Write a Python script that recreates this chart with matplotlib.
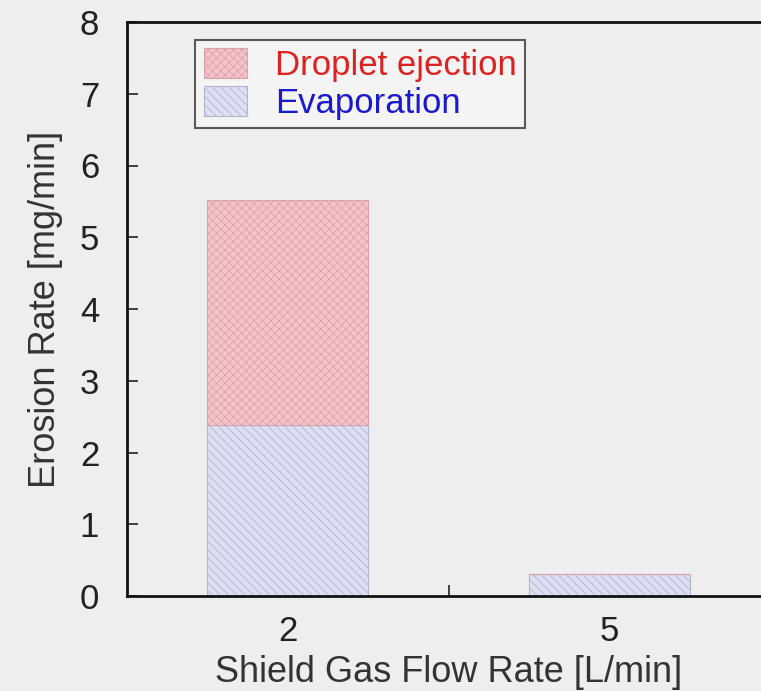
import numpy as np
import matplotlib.pyplot as plt

plt.rcParams['font.family'] = ['Liberation Sans', 'DejaVu Sans']
plt.rcParams['hatch.linewidth'] = 0.6

flow_rates = ['2', '5']
evaporation = [2.38, 0.30]
droplet = [3.14, 0.0]

def Main():
    fig = plt.figure(figsize=(7.61, 6.91), dpi=100, facecolor='#eeeeee')
    # axes runs slightly past the right edge, like the cropped original
    ax = fig.add_axes([127 / 761, 95 / 691, 643 / 761, 574 / 691])
    ax.set_facecolor('#eeeeee')

    x = np.arange(len(flow_rates))
    ax.bar(x, evaporation, width=0.5, color='#dedef4', edgecolor='#b4b4c8',
           hatch='\\\\\\\\', linewidth=0.8, label='Evaporation')
    ax.bar(x, droplet, width=0.5, bottom=evaporation, color='#f6c2c8',
           edgecolor='#d4a6ac', hatch='xxxx', linewidth=0.8,
           label='Droplet ejection')

    ax.set_xlim(-0.5, 1.5)
    ax.set_ylim(0, 8)
    ax.set_xticks(x)
    ax.set_xticklabels(flow_rates)
    ax.set_xticks([0.5], minor=True)
    ax.set_yticks(range(0, 9))
    ax.tick_params(axis='both', which='both', direction='in', length=8,
                   width=1.2, labelsize=25, colors='#222222')
    ax.tick_params(axis='x', which='major', length=0, pad=14)
    ax.tick_params(axis='y', pad=20)
    for s in ax.spines.values():
        s.set_linewidth(2)
        s.set_color('#111111')
    ax.spines['right'].set_visible(False)

    ax.set_xlabel('Shield Gas Flow Rate [L/min]', fontsize=26, color='#333333',
                  labelpad=5)
    ax.set_ylabel('Erosion Rate [mg/min]', fontsize=26, color='#333333',
                  labelpad=12)

    handles, labels = ax.get_legend_handles_labels()
    leg = ax.legend(handles[::-1], labels[::-1], loc='upper left',
                    bbox_to_anchor=(0.106, 0.969), fontsize=25,
                    frameon=True, fancybox=False, handlelength=1.25,
                    handleheight=0.95, handletextpad=0.8, labelspacing=0.1,
                    borderpad=0.25, borderaxespad=0)
    leg.get_frame().set_edgecolor('#333333')
    leg.get_frame().set_linewidth(1.5)
    leg.get_frame().set_facecolor('#f6f6f6')
    leg.texts[0].set_color('#dd2222')
    leg.texts[1].set_color('#1a1acc')

    fig.savefig('out.png', dpi=100, facecolor=fig.get_facecolor())

if __name__ == "__main__":
    Main()
